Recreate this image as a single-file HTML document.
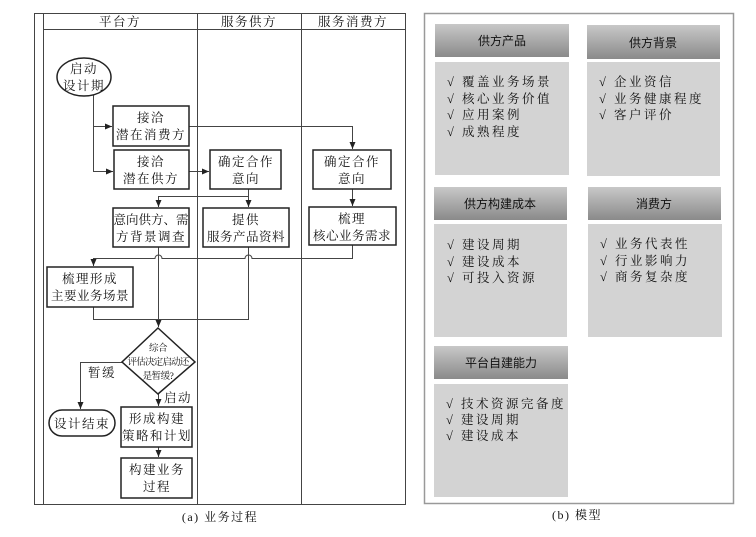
<!DOCTYPE html>
<html><head><meta charset="utf-8"><style>
html,body{margin:0;padding:0;background:#fff;}
svg{display:block;font-family:"Liberation Serif","Noto Serif CJK SC","Noto Sans CJK SC",serif;}
.t{font-size:12.5px;fill:#111;text-anchor:middle;letter-spacing:1.5px;}
.h{font-family:"Liberation Sans","Noto Sans CJK SC",sans-serif;font-size:12px;fill:#111;text-anchor:middle;}
.c{font-size:12.5px;fill:#111;letter-spacing:2.5px;}
</style></head><body>
<svg width="756" height="537" viewBox="0 0 756 537" xmlns="http://www.w3.org/2000/svg">
<defs>
<marker id="a" markerWidth="8" markerHeight="8" refX="7" refY="3" orient="auto" markerUnits="userSpaceOnUse"><path d="M0,0 L7,3 L0,6 z" fill="#222"/></marker>
<linearGradient id="g" x1="0" y1="0" x2="0" y2="1"><stop offset="0" stop-color="#c8c8c8"/><stop offset="1" stop-color="#8a8a8a"/></linearGradient>
</defs>
<!-- left frame -->
<g stroke="#444" stroke-width="1" fill="none">
<rect x="34.5" y="13.5" width="371" height="491"/>
<line x1="43.5" y1="13" x2="43.5" y2="505"/>
<line x1="197.5" y1="13" x2="197.5" y2="505"/>
<line x1="301.5" y1="13" x2="301.5" y2="505"/>
<line x1="43" y1="29.5" x2="406" y2="29.5"/>
</g>
<text class="t" x="120" y="26">平台方</text>
<text class="t" x="249" y="26">服务供方</text>
<text class="t" x="353" y="26">服务消费方</text>
<!-- connectors -->
<g stroke="#444" stroke-width="1" fill="none">
<path d="M93.5,95 V171.5 H113" marker-end="url(#a)"/>
<path d="M93.5,126.5 H112" marker-end="url(#a)"/>
<path d="M189,126.5 H352.5 V149" marker-end="url(#a)"/>
<path d="M189,171.5 H209" marker-end="url(#a)"/>
<path d="M248.5,189 V207" marker-end="url(#a)"/>
<path d="M248.5,196.5 H158.5 V207" marker-end="url(#a)"/>
<path d="M352.5,189 V206" marker-end="url(#a)"/>
<path d="M352.5,245 V258.5 H252 a3.5,3.5 0 0 0 -7,0 H162 a3.5,3.5 0 0 0 -7,0 H93.5 V266" marker-end="url(#a)"/>
<path d="M158.5,247 V327" marker-end="url(#a)"/>
<path d="M248.5,247 V319.5 H93.5 V307"/>
<path d="M122,362.5 H80.5 V409" marker-end="url(#a)"/>
<path d="M158.5,394 V406" marker-end="url(#a)"/>
<path d="M158.5,447 V457" marker-end="url(#a)"/>
</g>
<!-- nodes -->
<g stroke="#222" stroke-width="1.5" fill="#fff">
<ellipse cx="84" cy="77" rx="27" ry="19"/>
<rect x="113" y="106" width="76" height="40"/>
<rect x="114" y="150" width="75" height="39"/>
<rect x="210" y="150" width="71" height="39"/>
<rect x="313" y="150" width="78" height="39"/>
<rect x="113" y="208" width="76" height="39"/>
<rect x="203" y="208" width="86" height="39"/>
<rect x="309" y="207" width="87" height="38"/>
<rect x="47" y="267" width="86" height="40"/>
<path d="M158,328 L195,362 L158,394 L122,362 Z"/>
<rect x="49" y="410" width="66" height="26" rx="13"/>
<rect x="121" y="407" width="71" height="40"/>
<rect x="121" y="458" width="71" height="40"/>
</g>
<text class="t" x="84" y="73">启动</text><text class="t" x="84" y="90">设计期</text>
<text class="t" x="151" y="122">接洽</text><text class="t" x="151" y="139">潜在消费方</text>
<text class="t" x="151" y="166">接洽</text><text class="t" x="151" y="183">潜在供方</text>
<text class="t" x="246" y="166">确定合作</text><text class="t" x="246" y="183">意向</text>
<text class="t" x="352" y="166">确定合作</text><text class="t" x="352" y="183">意向</text>
<text class="t" x="151" y="224" style="letter-spacing:0">意向供方、需</text><text class="t" x="151" y="241">方背景调查</text>
<text class="t" x="246" y="224">提供</text><text class="t" x="246" y="241" style="letter-spacing:0.5px">服务产品资料</text>
<text class="t" x="352" y="223">梳理</text><text class="t" x="352" y="240" style="letter-spacing:0.5px">核心业务需求</text>
<text class="t" x="90" y="283">梳理形成</text><text class="t" x="90" y="300" style="letter-spacing:0.5px">主要业务场景</text>
<g style="font-size:9px;letter-spacing:-0.5px" class="t"><text class="t" x="158" y="351" style="font-size:9.5px;letter-spacing:-0.5px">综合</text><text class="t" x="158" y="365" style="font-size:9.5px;letter-spacing:-0.8px">评估决定启动还</text><text class="t" x="158" y="379" style="font-size:9.5px;letter-spacing:-0.5px">是暂缓?</text></g>
<text class="t" x="102" y="377">暂缓</text>
<text class="t" x="178" y="402">启动</text>
<text class="t" x="82" y="428">设计结束</text>
<text class="t" x="157" y="423">形成构建</text><text class="t" x="157" y="440">策略和计划</text>
<text class="t" x="157" y="474">构建业务</text><text class="t" x="157" y="491">过程</text>
<text class="t" x="220" y="521" style="font-size:12px">(a) 业务过程</text>
<!-- right panel -->
<rect x="424.5" y="13.5" width="309" height="490" fill="#fff" stroke="#999" stroke-width="1.5"/>
<g fill="url(#g)">
<rect x="435" y="24" width="134" height="33"/>
<rect x="587" y="25" width="133" height="34"/>
<rect x="434" y="187" width="133" height="33"/>
<rect x="588" y="187" width="133" height="33"/>
<rect x="434" y="346" width="134" height="33"/>
</g>
<g fill="#d3d3d3">
<rect x="435" y="62" width="134" height="113"/>
<rect x="587" y="62" width="133" height="114"/>
<rect x="434" y="224" width="133" height="113"/>
<rect x="588" y="224" width="134" height="113"/>
<rect x="434" y="384" width="134" height="113"/>
</g>
<text class="h" x="502" y="45">供方产品</text>
<text class="h" x="653" y="47">供方背景</text>
<text class="h" x="500" y="208">供方构建成本</text>
<text class="h" x="654" y="208">消费方</text>
<text class="h" x="501" y="367">平台自建能力</text>
<g class="c">
<text class="c" x="447" y="86">√ 覆盖业务场景</text>
<text class="c" x="447" y="103">√ 核心业务价值</text>
<text class="c" x="447" y="119">√ 应用案例</text>
<text class="c" x="447" y="136">√ 成熟程度</text>
<text class="c" x="599" y="86">√ 企业资信</text>
<text class="c" x="599" y="103">√ 业务健康程度</text>
<text class="c" x="599" y="119">√ 客户评价</text>
<text class="c" x="447" y="249">√ 建设周期</text>
<text class="c" x="447" y="266">√ 建设成本</text>
<text class="c" x="447" y="282">√ 可投入资源</text>
<text class="c" x="600" y="248">√ 业务代表性</text>
<text class="c" x="600" y="265">√ 行业影响力</text>
<text class="c" x="600" y="281">√ 商务复杂度</text>
<text class="c" x="446" y="408">√ 技术资源完备度</text>
<text class="c" x="446" y="424">√ 建设周期</text>
<text class="c" x="446" y="440">√ 建设成本</text>
</g>
<text class="t" x="577" y="519" style="font-size:12px">(b) 模型</text>
</svg>
</body></html>
